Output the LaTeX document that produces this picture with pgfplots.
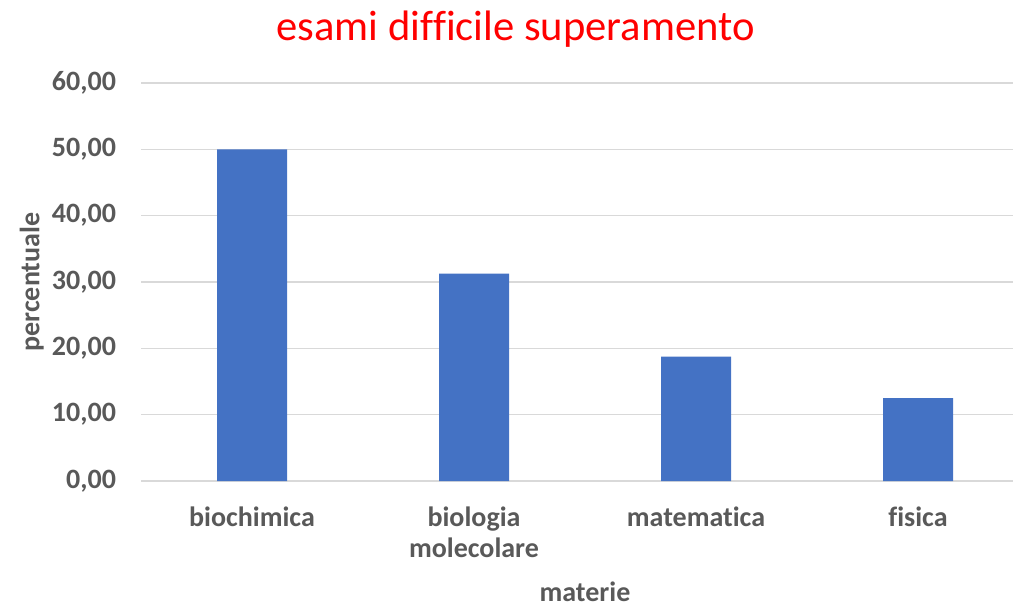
\documentclass[border=0pt]{standalone}
\usepackage{pgfplots}
\pgfplotsset{compat=1.18}
\usepackage{fontspec}
\setmainfont[Ligatures=NoCommon]{Carlito}
\definecolor{barblue}{HTML}{4472C4}
\definecolor{txtgray}{HTML}{595959}
\definecolor{gridgray}{HTML}{D9D9D9}
\begin{document}
\begin{tikzpicture}
\begin{axis}[
    name=ax,
    scale only axis,
    width=444pt, height=199pt,
    ybar, bar width=35pt,
    xmin=-0.5, xmax=3.5,
    ymin=0, ymax=60,
    ytick={0,10,...,60},
    xtick=data,
    xticklabels={biochimica, {biologia\\molecolare}, matematica, fisica},
    axis x line*=bottom,
    axis y line*=left,
    y axis line style={draw=none},
    x axis line style={draw=gridgray, line width=0.8pt, -},
    ymajorgrids,
    grid style={draw=gridgray, line width=0.8pt},
    major tick length=0pt,
    tick style={draw=none},
    yticklabel style={
        font=\fontsize{14}{16}\selectfont\bfseries, text=txtgray, xshift=-9pt,
        /pgf/number format/.cd, fixed, fixed zerofill, precision=2, use comma, assume math mode=true},
    xticklabel style={font=\fontsize{14}{15.5}\selectfont\bfseries, text=txtgray,
        align=center, yshift=-9.5pt},
    ylabel={percentuale},
    xlabel={materie},
    every axis y label/.style={at={(axis description cs:-0.123,0.5)}, rotate=90, anchor=center,
        font=\fontsize{14}{16}\selectfont\bfseries, text=txtgray},
    every axis x label/.style={at={(axis description cs:0.5,-0.279)}, anchor=center,
        font=\fontsize{14}{16}\selectfont\bfseries, text=txtgray},
    title={esami difficile superamento},
    every axis title/.style={at={(axis description cs:0.422,1.135)}, anchor=center,
        font=\fontsize{21.3}{25}\selectfont, text=red},
]
\addplot[fill=barblue, draw=none] coordinates {(0,50) (1,31.25) (2,18.75) (3,12.5)};
\end{axis}
\pgfresetboundingbox
\path[use as bounding box] ([xshift=-70.5pt,yshift=-62.5pt]ax.south west) rectangle ([xshift=-8pt,yshift=41.5pt]ax.north east);
\end{tikzpicture}
\end{document}
